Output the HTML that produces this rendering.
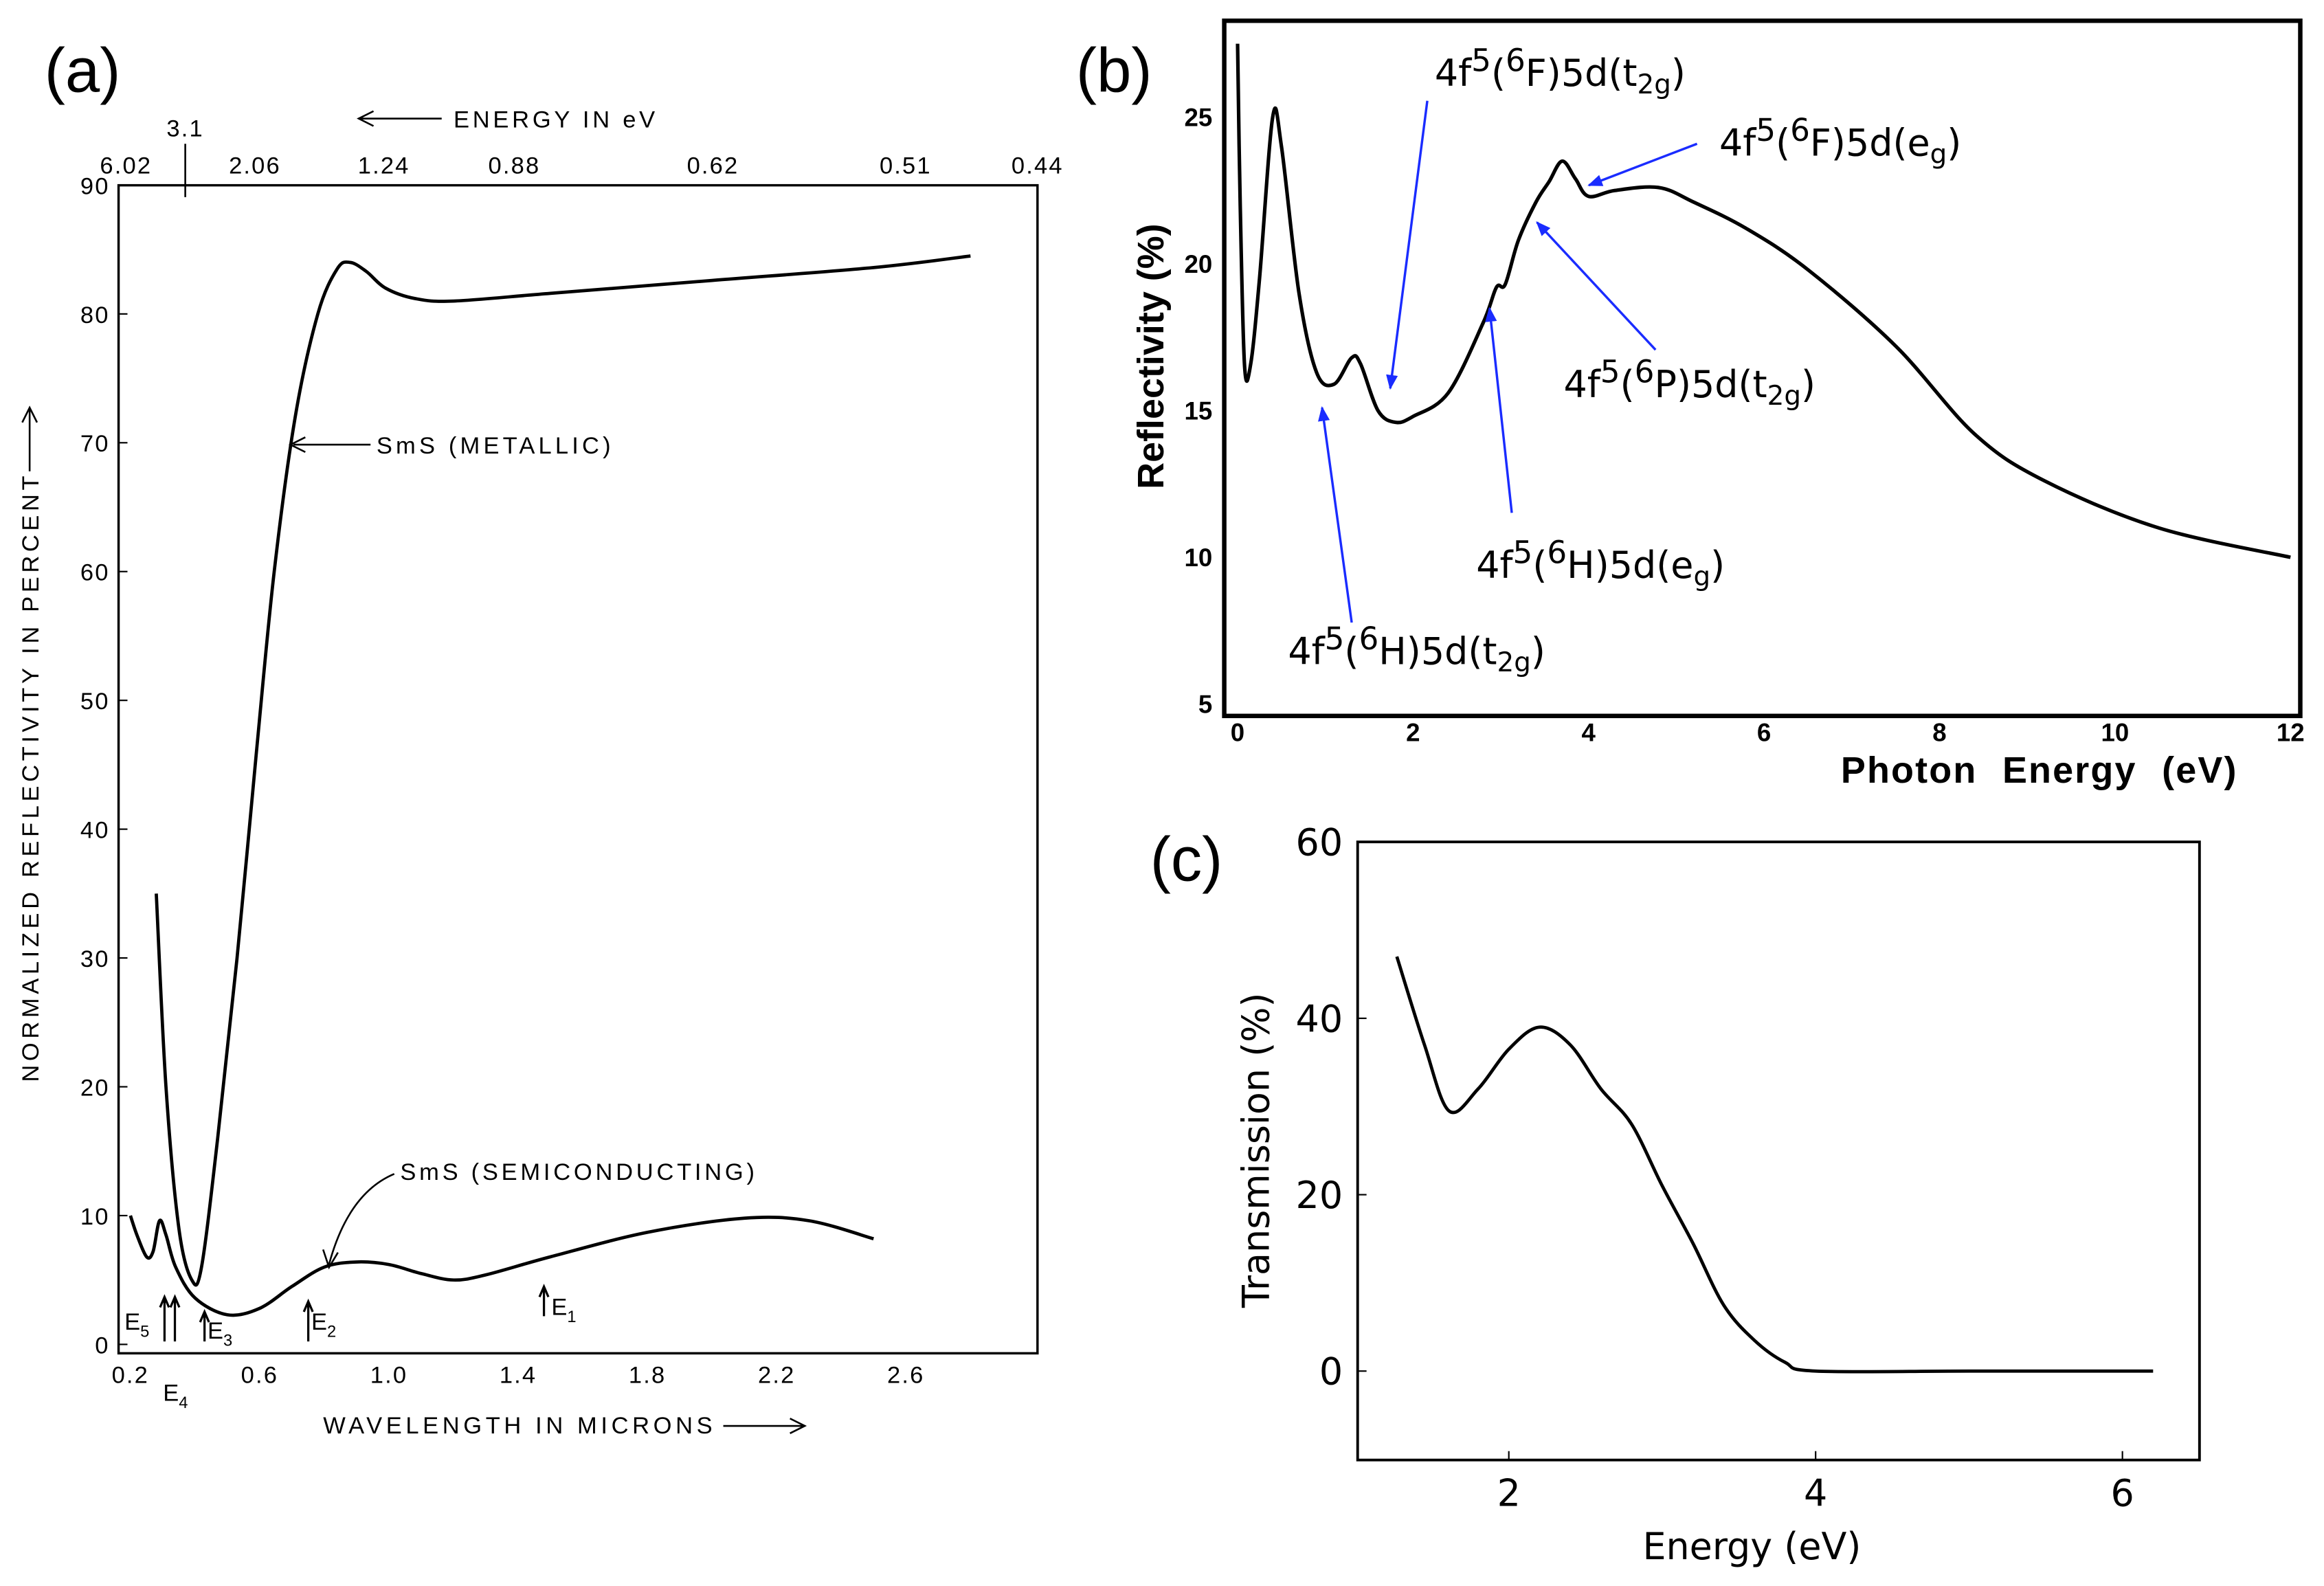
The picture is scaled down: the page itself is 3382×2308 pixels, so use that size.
<!DOCTYPE html>
<html><head><meta charset="utf-8"><style>
html,body{margin:0;padding:0;background:#fff}
svg{display:block}
text{font-family:"Liberation Sans",sans-serif}
</style></head><body>
<svg id="fig" width="3382" height="2308" viewBox="0 0 1568 1070" preserveAspectRatio="none" xmlns="http://www.w3.org/2000/svg">
<rect width="1568" height="1070" fill="#fff"/>
<g id="pa"></g>
<g id="pb"></g>
<g id="pc"></g>
</svg>
<script>
// ---- Panel (a) data ----
const aMetX=[0.28,0.31,0.35,0.39,0.42,0.47,0.53,0.59,0.645,0.71,0.78,0.84,0.88,0.93,0.99,1.08,1.2,1.5,2.0,2.5,2.8];
const aMetY=[35,20,9,5,6,16,30,46,60,72,80,83.5,84,83.3,82,81.2,81,81.6,82.6,83.6,84.5];
const aSemX=[0.2,0.22,0.25,0.27,0.29,0.31,0.34,0.4,0.5,0.6,0.7,0.8,0.9,1.0,1.1,1.2,1.3,1.5,1.8,2.1,2.3,2.5];
const aSemY=[10,8.5,6.8,7.2,9.6,8.5,6,3.6,2.3,2.8,4.5,6,6.4,6.2,5.5,5,5.4,6.8,8.7,9.8,9.6,8.2];
const aYTicks=[0,10,20,30,40,50,60,70,80,90];
const aXTicks=["0.2","0.6","1.0","1.4","1.8","2.2","2.6"];
// ---- Panel (b) data ----
const bX=[0,0.03,0.08,0.15,0.25,0.4,0.5,0.7,0.9,1.1,1.3,1.4,1.6,1.8,2.0,2.4,2.8,2.95,3.05,3.2,3.4,3.55,3.7,3.85,4.0,4.3,4.8,5.2,5.8,6.5,7.5,8.4,9.2,10.5,12];
const bY=[27.5,22,16.5,16.6,19.5,25,24,19,16.3,15.9,16.8,16.6,15,14.6,14.8,15.6,18,19.2,19.3,20.8,22.1,22.8,23.5,22.9,22.3,22.5,22.6,22.1,21.2,19.8,17.2,14.2,12.6,11,10];
const bYTicks=[5,10,15,20,25];
const bXTicks=[0,2,4,6,8,10,12];
// ---- Panel (c) data ----
const cX=[1.27,1.45,1.61,1.8,2.0,2.2,2.4,2.6,2.8,3.0,3.2,3.4,3.6,3.8,4.0,5,6.2];
const cY=[47,37,29.5,32,36.5,39,37,32,28,21,14.5,7.5,3.5,1,0,0,0];
const cYTicks=[0,20,40,60];
const cXTicks=[2,4,6];

const NS="http://www.w3.org/2000/svg";
const DJ="font-family:'DejaVu Sans',sans-serif";
function mk(parent,tag,attrs,txt){const e=document.createElementNS(NS,tag);for(const k in attrs)e.setAttribute(k,attrs[k]);if(txt!==undefined)e.textContent=txt;parent.appendChild(e);return e;}
function smooth(pts){let d="M"+pts[0][0]+","+pts[0][1];for(let i=0;i<pts.length-1;i++){const p0=pts[Math.max(0,i-1)],p1=pts[i],p2=pts[i+1],p3=pts[Math.min(pts.length-1,i+2)];const c1=[p1[0]+(p2[0]-p0[0])/6,p1[1]+(p2[1]-p0[1])/6],c2=[p2[0]-(p3[0]-p1[0])/6,p2[1]-(p3[1]-p1[1])/6];d+=" C"+c1[0]+","+c1[1]+" "+c2[0]+","+c2[1]+" "+p2[0]+","+p2[1];}return d;}

// Panel a
(function(){
const g=document.getElementById('pa');
const ax=v=>88+(v-0.2)*218, ay=v=>907-v*8.69;
let e=mk(g,'rect',{x:80,y:125,width:620,height:788,fill:'none',stroke:'#000','stroke-width':1.6});

e=mk(g,'text',{x:30,y:62,'font-size':42},'(a)');

aYTicks.forEach(v=>{const t=mk(g,'text',{x:74,y:ay(v)+6,'font-size':16,'text-anchor':'end','letter-spacing':1},String(v));

mk(g,'line',{x1:80,x2:86,y1:ay(v),y2:ay(v),stroke:'#000'});});
aXTicks.forEach(v=>{const t=mk(g,'text',{x:ax(+v),y:933,'font-size':16,'text-anchor':'middle','letter-spacing':1},v);
});
const top=[["6.02",85],["3.1",125],["2.06",172],["1.24",259],["0.88",347],["0.62",481],["0.51",611],["0.44",700]];
top.forEach(([s,x])=>{const t=mk(g,'text',{x:x,y:s==="3.1"?92:117,'font-size':16,'text-anchor':'middle','letter-spacing':1},s);
});
mk(g,'line',{x1:125,x2:125,y1:97,y2:133,stroke:'#000','stroke-width':1.2});
e=mk(g,'text',{x:306,y:86,'font-size':16,'letter-spacing':2.2},'ENERGY IN eV');
mk(g,'path',{d:'M298,80 H242 M252,75 L242,80 L252,85',fill:'none',stroke:'#000','stroke-width':1.2});
e=mk(g,'text',{x:218,y:967,'font-size':16,'letter-spacing':2.6},'WAVELENGTH IN MICRONS');
mk(g,'path',{d:'M488,962 H543 M533,957 L543,962 L533,967',fill:'none',stroke:'#000','stroke-width':1.2});
e=mk(g,'text',{x:26,y:730,'font-size':16,'letter-spacing':2.6,transform:'rotate(-90 26 730)'},'NORMALIZED REFLECTIVITY IN PERCENT');
mk(g,'path',{d:'M20,318 V275 M15,285 L20,275 L25,285',fill:'none',stroke:'#000','stroke-width':1.2});
e=mk(g,'path',{d:smooth(aMetX.map((x,i)=>[ax(x),ay(aMetY[i])])),fill:'none',stroke:'#000','stroke-width':2.2});

e=mk(g,'path',{d:smooth(aSemX.map((x,i)=>[ax(x),ay(aSemY[i])])),fill:'none',stroke:'#000','stroke-width':2.2});

e=mk(g,'text',{x:254,y:306,'font-size':16,'letter-spacing':2.4},'SmS (METALLIC)');
mk(g,'path',{d:'M250,300 H198 M206,295 L196,300 L206,305',fill:'none',stroke:'#000','stroke-width':1.2});
e=mk(g,'text',{x:270,y:796,'font-size':16,'letter-spacing':2.2},'SmS (SEMICONDUCTING)');
mk(g,'path',{d:'M266,792 Q235,805 222,853 M218,843 L222,855 L228,845',fill:'none',stroke:'#000','stroke-width':1.2});
const marks=[["E",5,84,897],["E",3,140,903],["E",2,210,897],["E",1,372,887],["E",4,110,945]];
marks.forEach(([s,n,x,y])=>{const t=mk(g,'text',{x:x,y:y,'font-size':16},s);mk(t,'tspan',{'font-size':11,dy:5},String(n));
});
[[111,905,875],[118,905,875],[138,905,885],[208,905,878],[367,888,868]].forEach(([x,y1,y2])=>{mk(g,'path',{d:`M${x},${y1} V${y2} M${x-3},${y2+7} L${x},${y2} L${x+3},${y2+7}`,fill:'none',stroke:'#000','stroke-width':1.5});});
})();

// Panel b
(function(){
const g=document.getElementById('pb');
const bx=v=>835+v*59.2, by=v=>574-v*19.8;
let e=mk(g,'rect',{x:826,y:14,width:726,height:469,fill:'none',stroke:'#000','stroke-width':3});

e=mk(g,'text',{x:726,y:62,'font-size':42},'(b)');
bYTicks.forEach(v=>{const t=mk(g,'text',{x:818,y:by(v)+6,'font-size':17,'font-weight':'bold','text-anchor':'end'},String(v));
});
bXTicks.forEach(v=>{const t=mk(g,'text',{x:bx(v),y:500,'font-size':17,'font-weight':'bold','text-anchor':'middle'},String(v));
});
e=mk(g,'text',{x:1242,y:528,'font-size':25,'font-weight':'bold','letter-spacing':1,'word-spacing':9},'Photon Energy    (eV)');
e=mk(g,'text',{x:785,y:330,'font-size':25,'font-weight':'bold',transform:'rotate(-90 785 330)'},'Reflectivity    (%)');
e=mk(g,'path',{d:smooth(bX.map((x,i)=>[bx(x),by(bY[i])])),fill:'none',stroke:'#000','stroke-width':2.4});

const anns=[["F","t","2g",968,58,[963,68,938,262]],["F","e","g",1160,105,[1145,97,1072,125]],["P","t","2g",1055,268,[1117,236,1037,150]],["H","e","g",996,390,[1020,346,1005,208]],["H","t","2g",869,448,[912,420,892,275]]];
anns.forEach(([L,s,sub,x,y,a])=>{const t=mk(g,'text',{x:x,y:y,'font-size':25,style:DJ});
t.appendChild(document.createTextNode('4f'));mk(t,'tspan',{dy:-10,'font-size':21},'5');
mk(t,'tspan',{dy:10},'(');mk(t,'tspan',{dy:-10,'font-size':21},'6');mk(t,'tspan',{dy:10},L+')5d('+s);
mk(t,'tspan',{dy:5,'font-size':18},sub);mk(t,'tspan',{dy:-5},')');

const ln=mk(g,'line',{x1:a[0],y1:a[1],x2:a[2],y2:a[3],stroke:'#1a2cff','stroke-width':1.6,'marker-end':'url(#ah)'});
});
const defs=mk(document.getElementById('fig'),'defs',{});
const m=mk(defs,'marker',{id:'ah',markerWidth:10,markerHeight:8,refX:9,refY:4,orient:'auto',markerUnits:'userSpaceOnUse'});
mk(m,'path',{d:'M0,0 L10,4 L0,8 Z',fill:'#1a2cff'});
})();

// Panel c
(function(){
const g=document.getElementById('pc');
const cx=v=>811+v*103.5, cy=v=>925-v*5.95;
let e=mk(g,'rect',{x:916,y:568,width:568,height:417,fill:'none',stroke:'#000','stroke-width':1.8});

e=mk(g,'text',{x:776,y:594,'font-size':42},'(c)');
cYTicks.forEach(v=>{const t=mk(g,'text',{x:906,y:cy(v)+9,'font-size':25,'text-anchor':'end',style:DJ},String(v));

mk(g,'line',{x1:916,x2:922,y1:cy(v),y2:cy(v),stroke:'#000'});});
cXTicks.forEach(v=>{const t=mk(g,'text',{x:cx(v),y:1016,'font-size':25,'text-anchor':'middle',style:DJ},String(v));

mk(g,'line',{x1:cx(v),x2:cx(v),y1:985,y2:979,stroke:'#000'});});
e=mk(g,'text',{x:1182,y:1052,'font-size':25,'text-anchor':'middle',style:DJ},'Energy (eV)');
e=mk(g,'text',{x:856,y:776,'font-size':25,'text-anchor':'middle',style:DJ,transform:'rotate(-90 856 776)'},'Transmission (%)');
e=mk(g,'path',{d:smooth(cX.map((x,i)=>[cx(x),cy(cY[i])])),fill:'none',stroke:'#000','stroke-width':2.2});

})();
</script>
</body></html>
